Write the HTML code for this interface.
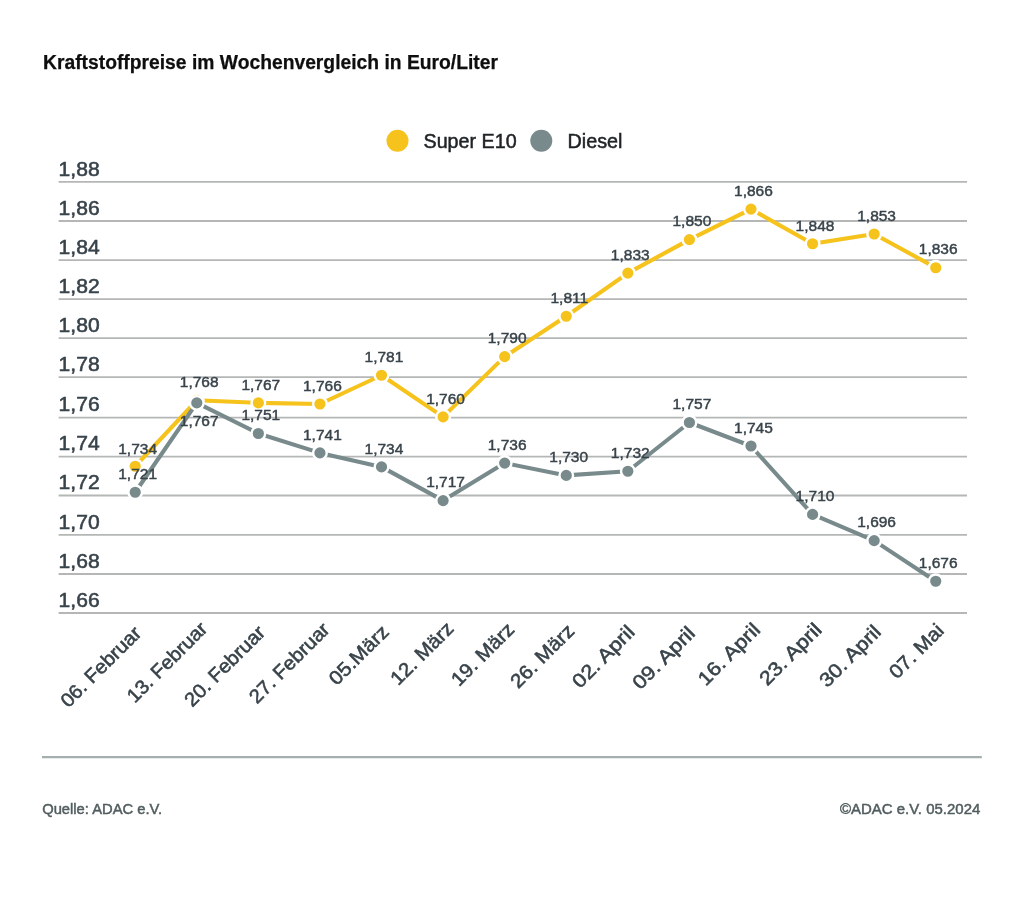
<!DOCTYPE html>
<html lang="de"><head><meta charset="utf-8">
<title>Kraftstoffpreise im Wochenvergleich in Euro/Liter</title>
<style>
html,body{margin:0;padding:0;background:#fff;}
svg{display:block;font-family:"Liberation Sans",sans-serif;}
.title{font-size:20px;font-weight:bold;fill:#0e0e0e;stroke:#0e0e0e;stroke-width:0.25;}
.leg{font-size:20px;fill:#1f2326;stroke:#1f2326;stroke-width:0.5;}
.yl{font-size:19.5px;fill:#38434a;stroke:#38434a;stroke-width:0.55;}
.xl{font-size:19.5px;fill:#38434a;stroke:#38434a;stroke-width:0.55;text-anchor:end;}
.dl{font-size:14px;fill:#38434a;stroke:#38434a;stroke-width:0.42;text-anchor:middle;}
.ft{font-size:15.5px;fill:#525d5f;stroke:#525d5f;stroke-width:0.5;}
.grid line{stroke:#b5b7b7;stroke-width:1.8;}
.ln{fill:none;stroke-width:4.1;stroke-linejoin:round;stroke-linecap:round;}
.mk circle{stroke:#fff;stroke-width:2.4;}
</style></head><body>
<svg width="1024" height="899" viewBox="0 0 1024 899">
<rect x="0" y="0" width="1024" height="899" fill="#fff"/>
<text class="title" x="43" y="69" textLength="455" lengthAdjust="spacingAndGlyphs">Kraftstoffpreise im Wochenvergleich in Euro/Liter</text>
<circle cx="397.5" cy="140.7" r="11" fill="#f6c21c"/>
<text class="leg" x="423.5" y="147.5" textLength="93.2" lengthAdjust="spacingAndGlyphs">Super E10</text>
<circle cx="541.3" cy="140.7" r="11" fill="#788a8b"/>
<text class="leg" x="567.5" y="147.5" textLength="55" lengthAdjust="spacingAndGlyphs">Diesel</text>
<g class="grid">
<line x1="58.6" y1="181.9" x2="967" y2="181.9"/>
<line x1="58.6" y1="221" x2="967" y2="221"/>
<line x1="58.6" y1="260.1" x2="967" y2="260.1"/>
<line x1="58.6" y1="299.1" x2="967" y2="299.1"/>
<line x1="58.6" y1="338.1" x2="967" y2="338.1"/>
<line x1="58.6" y1="377.15" x2="967" y2="377.15"/>
<line x1="58.6" y1="417.6" x2="967" y2="417.6"/>
<line x1="58.6" y1="456.6" x2="967" y2="456.6"/>
<line x1="58.6" y1="495.5" x2="967" y2="495.5"/>
<line x1="58.6" y1="534.8" x2="967" y2="534.8"/>
<line x1="58.6" y1="574" x2="967" y2="574"/>
<line x1="58.6" y1="613" x2="967" y2="613"/>
</g>
<text class="yl" x="58.6" y="175.6" textLength="41" lengthAdjust="spacingAndGlyphs">1,88</text>
<text class="yl" x="58.6" y="214.7" textLength="41" lengthAdjust="spacingAndGlyphs">1,86</text>
<text class="yl" x="58.6" y="253.8" textLength="41" lengthAdjust="spacingAndGlyphs">1,84</text>
<text class="yl" x="58.6" y="292.8" textLength="41" lengthAdjust="spacingAndGlyphs">1,82</text>
<text class="yl" x="58.6" y="331.8" textLength="41" lengthAdjust="spacingAndGlyphs">1,80</text>
<text class="yl" x="58.6" y="370.85" textLength="41" lengthAdjust="spacingAndGlyphs">1,78</text>
<text class="yl" x="58.6" y="411.3" textLength="41" lengthAdjust="spacingAndGlyphs">1,76</text>
<text class="yl" x="58.6" y="450.3" textLength="41" lengthAdjust="spacingAndGlyphs">1,74</text>
<text class="yl" x="58.6" y="489.2" textLength="41" lengthAdjust="spacingAndGlyphs">1,72</text>
<text class="yl" x="58.6" y="528.5" textLength="41" lengthAdjust="spacingAndGlyphs">1,70</text>
<text class="yl" x="58.6" y="567.7" textLength="41" lengthAdjust="spacingAndGlyphs">1,68</text>
<text class="yl" x="58.6" y="606.7" textLength="41" lengthAdjust="spacingAndGlyphs">1,66</text>
<polyline class="ln" stroke="#f6c21c" points="135.2,466.25 196.78,400.3 258.36,402.9 319.94,404 381.52,375.25 443.1,416.9 504.68,356.6 566.26,316.25 627.84,273.1 689.42,239.6 751,209.1 812.58,243.75 874.16,234 935.74,267.75"/>
<g class="mk" fill="#f6c21c">
<circle cx="135.2" cy="466.25" r="6.8"/>
<circle cx="196.78" cy="400.3" r="6.8"/>
<circle cx="258.36" cy="402.9" r="6.8"/>
<circle cx="319.94" cy="404" r="6.8"/>
<circle cx="381.52" cy="375.25" r="6.8"/>
<circle cx="443.1" cy="416.9" r="6.8"/>
<circle cx="504.68" cy="356.6" r="6.8"/>
<circle cx="566.26" cy="316.25" r="6.8"/>
<circle cx="627.84" cy="273.1" r="6.8"/>
<circle cx="689.42" cy="239.6" r="6.8"/>
<circle cx="751" cy="209.1" r="6.8"/>
<circle cx="812.58" cy="243.75" r="6.8"/>
<circle cx="874.16" cy="234" r="6.8"/>
<circle cx="935.74" cy="267.75" r="6.8"/>
</g>
<polyline class="ln" stroke="#788a8b" points="135.2,492.25 196.78,402.9 258.36,433.5 319.94,452.9 381.52,466.9 443.1,500.6 504.68,463.1 566.26,475.4 627.84,471.25 689.42,422.5 751,446 812.58,514.4 874.16,540.6 935.74,581.25"/>
<g class="mk" fill="#788a8b">
<circle cx="135.2" cy="492.25" r="6.8"/>
<circle cx="196.78" cy="402.9" r="6.8"/>
<circle cx="258.36" cy="433.5" r="6.8"/>
<circle cx="319.94" cy="452.9" r="6.8"/>
<circle cx="381.52" cy="466.9" r="6.8"/>
<circle cx="443.1" cy="500.6" r="6.8"/>
<circle cx="504.68" cy="463.1" r="6.8"/>
<circle cx="566.26" cy="475.4" r="6.8"/>
<circle cx="627.84" cy="471.25" r="6.8"/>
<circle cx="689.42" cy="422.5" r="6.8"/>
<circle cx="751" cy="446" r="6.8"/>
<circle cx="812.58" cy="514.4" r="6.8"/>
<circle cx="874.16" cy="540.6" r="6.8"/>
<circle cx="935.74" cy="581.25" r="6.8"/>
</g>
<text class="dl" x="137.65" y="454" textLength="38.8" lengthAdjust="spacingAndGlyphs">1,734</text>
<text class="dl" x="199.23" y="387" textLength="38.8" lengthAdjust="spacingAndGlyphs">1,768</text>
<text class="dl" x="260.81" y="389.85" textLength="38.8" lengthAdjust="spacingAndGlyphs">1,767</text>
<text class="dl" x="322.39" y="391.02" textLength="38.8" lengthAdjust="spacingAndGlyphs">1,766</text>
<text class="dl" x="383.97" y="361.98" textLength="38.8" lengthAdjust="spacingAndGlyphs">1,781</text>
<text class="dl" x="445.55" y="404.4" textLength="38.8" lengthAdjust="spacingAndGlyphs">1,760</text>
<text class="dl" x="507.13" y="343.45" textLength="38.8" lengthAdjust="spacingAndGlyphs">1,790</text>
<text class="dl" x="569.31" y="303.08" textLength="37.8" lengthAdjust="spacingAndGlyphs">1,811</text>
<text class="dl" x="630.29" y="259.83" textLength="38.8" lengthAdjust="spacingAndGlyphs">1,833</text>
<text class="dl" x="691.87" y="226.32" textLength="38.8" lengthAdjust="spacingAndGlyphs">1,850</text>
<text class="dl" x="753.45" y="195.75" textLength="38.8" lengthAdjust="spacingAndGlyphs">1,866</text>
<text class="dl" x="815.03" y="230.57" textLength="38.8" lengthAdjust="spacingAndGlyphs">1,848</text>
<text class="dl" x="876.61" y="220.7" textLength="38.8" lengthAdjust="spacingAndGlyphs">1,853</text>
<text class="dl" x="938.19" y="254.48" textLength="38.8" lengthAdjust="spacingAndGlyphs">1,836</text>
<text class="dl" x="137.65" y="479.23" textLength="38.8" lengthAdjust="spacingAndGlyphs">1,721</text>
<text class="dl" x="199.23" y="425.6" textLength="38.8" lengthAdjust="spacingAndGlyphs">1,767</text>
<text class="dl" x="260.81" y="420.15" textLength="38.8" lengthAdjust="spacingAndGlyphs">1,751</text>
<text class="dl" x="322.39" y="439.85" textLength="38.8" lengthAdjust="spacingAndGlyphs">1,741</text>
<text class="dl" x="383.97" y="453.73" textLength="38.8" lengthAdjust="spacingAndGlyphs">1,734</text>
<text class="dl" x="445.55" y="487.45" textLength="38.8" lengthAdjust="spacingAndGlyphs">1,717</text>
<text class="dl" x="507.13" y="449.83" textLength="38.8" lengthAdjust="spacingAndGlyphs">1,736</text>
<text class="dl" x="568.71" y="462.23" textLength="38.8" lengthAdjust="spacingAndGlyphs">1,730</text>
<text class="dl" x="630.29" y="457.98" textLength="38.8" lengthAdjust="spacingAndGlyphs">1,732</text>
<text class="dl" x="691.87" y="409.2" textLength="38.8" lengthAdjust="spacingAndGlyphs">1,757</text>
<text class="dl" x="753.45" y="432.77" textLength="38.8" lengthAdjust="spacingAndGlyphs">1,745</text>
<text class="dl" x="815.03" y="501.23" textLength="38.8" lengthAdjust="spacingAndGlyphs">1,710</text>
<text class="dl" x="876.61" y="527.45" textLength="38.8" lengthAdjust="spacingAndGlyphs">1,696</text>
<text class="dl" x="938.19" y="568.08" textLength="38.8" lengthAdjust="spacingAndGlyphs">1,676</text>
<text class="xl" transform="translate(142.5 634.4) rotate(-45)" x="0" y="0" textLength="104.81" lengthAdjust="spacingAndGlyphs">06. Februar</text>
<text class="xl" transform="translate(208.54 629.9) rotate(-45)" x="0" y="0" textLength="104.36" lengthAdjust="spacingAndGlyphs">13. Februar</text>
<text class="xl" transform="translate(266.33 633.65) rotate(-45)" x="0" y="0" textLength="104.87" lengthAdjust="spacingAndGlyphs">20. Februar</text>
<text class="xl" transform="translate(330.87 630.65) rotate(-45)" x="0" y="0" textLength="104.42" lengthAdjust="spacingAndGlyphs">27. Februar</text>
<text class="xl" transform="translate(390.01 633.05) rotate(-45)" x="0" y="0" textLength="75.2" lengthAdjust="spacingAndGlyphs">05.März</text>
<text class="xl" transform="translate(454.8 629.8) rotate(-45)" x="0" y="0" textLength="80.01" lengthAdjust="spacingAndGlyphs">12. März</text>
<text class="xl" transform="translate(515.49 630.65) rotate(-45)" x="0" y="0" textLength="80.02" lengthAdjust="spacingAndGlyphs">19. März</text>
<text class="xl" transform="translate(575.53 632.15) rotate(-45)" x="0" y="0" textLength="80.89" lengthAdjust="spacingAndGlyphs">26. März</text>
<text class="xl" transform="translate(635.82 633.4) rotate(-45)" x="0" y="0" textLength="78.86" lengthAdjust="spacingAndGlyphs">02. April</text>
<text class="xl" transform="translate(696.26 634.5) rotate(-45)" x="0" y="0" textLength="79.34" lengthAdjust="spacingAndGlyphs">09. April</text>
<text class="xl" transform="translate(761.3 631) rotate(-45)" x="0" y="0" textLength="78.68" lengthAdjust="spacingAndGlyphs">16. April</text>
<text class="xl" transform="translate(822.79 631.05) rotate(-45)" x="0" y="0" textLength="78.53" lengthAdjust="spacingAndGlyphs">23. April</text>
<text class="xl" transform="translate(882.23 633.15) rotate(-45)" x="0" y="0" textLength="77.76" lengthAdjust="spacingAndGlyphs">30. April</text>
<text class="xl" transform="translate(945.12 631.8) rotate(-45)" x="0" y="0" textLength="67.93" lengthAdjust="spacingAndGlyphs">07. Mai</text>
<line x1="42" y1="757.2" x2="981.8" y2="757.2" stroke="#a6afb0" stroke-width="2.2"/>
<text class="ft" x="42.2" y="814.2" textLength="120" lengthAdjust="spacingAndGlyphs">Quelle: ADAC e.V.</text>
<text class="ft" x="840" y="814" textLength="140.3" lengthAdjust="spacingAndGlyphs">©ADAC e.V. 05.2024</text>
</svg>
</body></html>
